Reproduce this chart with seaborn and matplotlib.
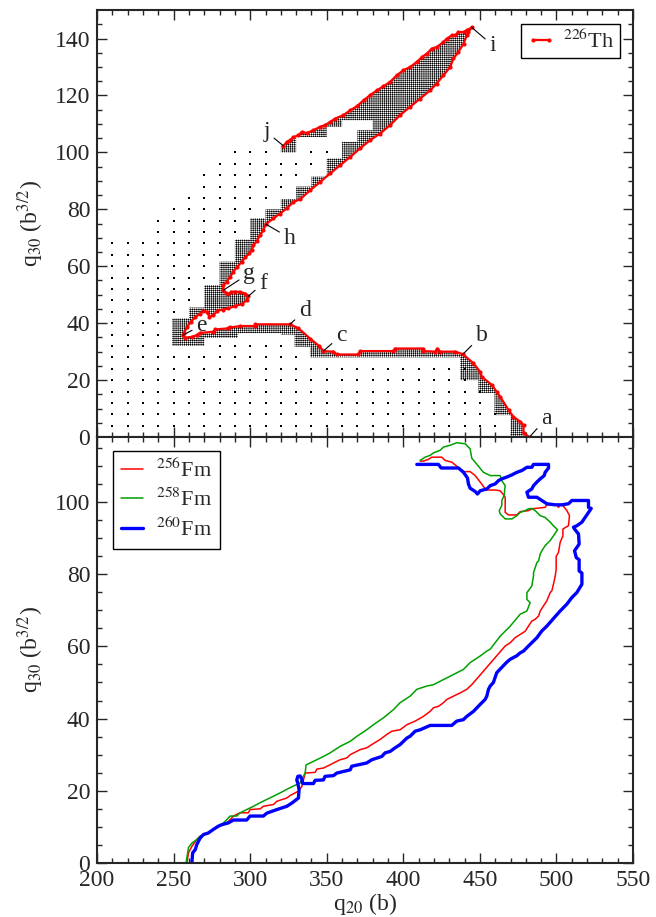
import numpy as np
import pandas as pd
import seaborn as sns
import matplotlib.pyplot as plt

# ---------------- data: upper panel (226Th) ----------------
# fission path a -> e
path_ae_q20 = [482.4, 478.5, 478.5, 476.3, 471.9, 468.7, 463.2, 461.0, 457.8, 451.2, 450.2, 445.8, 438.9,
               434.0, 424.0, 422.3, 420.8, 413.1, 412.7, 394.6, 393.5, 371.8, 370.7, 356.5, 354.3, 347.8,
               345.0, 339.1, 331.5, 326.0, 303.2, 303.2, 293.4, 286.9, 285.8, 277.1, 276.0, 267.3, 265.1,
               261.9, 257.5, 256.0]
path_ae_q30 = [0.0, 1.3, 4.2, 5.4, 7.1, 9.5, 14.2, 15.9, 18.3, 21.2, 22.9, 25.9, 29.1,
               30.0, 30.0, 31.1, 30.0, 30.2, 31.1, 31.1, 30.2, 30.2, 29.0, 29.0, 30.0, 30.2,
               32.0, 34.6, 38.2, 39.6, 39.6, 39.0, 39.0, 38.5, 38.2, 37.8, 37.0, 36.6, 35.8,
               35.2, 34.9, 35.8]
# e -> h
path_eh_q20 = [256.8, 258.6, 261.2, 264.0, 267.3, 269.4, 271.7, 273.4, 276.0, 278.6, 282.1, 285.8, 290.1,
               294.5, 297.8, 298.8, 296.7, 293.4, 290.1, 287.5, 285.8, 284.3, 282.5, 282.5, 284.6, 286.9,
               289.0, 291.6, 294.5, 296.7, 299.5, 301.0, 302.1, 304.3, 306.5, 308.6, 310.2]
path_eh_q30 = [36.6, 38.5, 40.5, 42.0, 43.4, 44.4, 44.0, 42.2, 42.8, 44.4, 44.8, 45.2, 46.0,
               46.7, 48.1, 49.5, 50.4, 51.0, 51.1, 51.0, 50.2, 50.6, 51.6, 53.4, 54.5, 56.3,
               58.1, 59.8, 61.6, 63.1, 64.5, 65.7, 67.4, 68.9, 70.9, 72.7, 74.8]
# h -> i
path_hi_q20 = [315.2, 319.5, 323.9, 328.2, 332.6, 339.1, 345.7, 352.2, 358.7, 365.3, 371.8, 378.3, 384.8,
               391.4, 397.9, 404.4, 411.0, 417.5, 421.8, 426.2, 430.6, 432.7, 436.0, 439.3, 441.4, 442.5,
               444.7]
path_hi_q30 = [76.8, 78.5, 80.3, 82.6, 83.5, 86.7, 89.6, 92.6, 95.5, 98.4, 101.4, 104.3, 106.6,
               109.6, 113.1, 116.0, 118.9, 121.8, 124.2, 127.1, 130.0, 133.0, 135.3, 138.2, 141.1, 142.3,
               143.9]
# i -> j
path_ij_q20 = [441.4, 439.3, 436.0, 433.8, 431.7, 428.4, 426.2, 421.8, 418.6, 415.3, 412.1, 408.8, 404.4,
               400.1, 395.7, 391.4, 387.0, 382.7, 378.3, 374.0, 369.6, 365.3, 360.9, 355.5, 352.2, 348.9,
               345.7, 341.3, 337.0, 333.7, 331.5, 328.2, 326.1, 323.9, 321.7]
path_ij_q30 = [142.9, 142.3, 142.3, 141.1, 141.1, 140.0, 138.8, 137.0, 136.5, 134.7, 133.5, 131.8, 130.0,
               128.9, 127.1, 124.8, 123.2, 121.8, 120.1, 118.3, 116.2, 114.8, 113.1, 111.9, 110.7, 109.6,
               109.0, 107.8, 106.8, 107.2, 106.0, 105.4, 104.3, 103.7, 102.3]

# labelled points along the path
lab_txt = ['a', 'b', 'c', 'd', 'e', 'f', 'g', 'h', 'i', 'j']
lab_q20 = [482.4, 438.9, 347.8, 326.0, 256.0, 298.8, 282.5, 310.2, 444.7, 321.7]
lab_q30 = [0.0, 29.1, 30.2, 39.6, 35.8, 49.5, 51.6, 74.8, 143.9, 102.3]
lab_dx = [17, 19, 18, 15, 19, 15, 26, 24, 21, -17]
lab_dy = [19, 19, 16, 14, 10, 13, 17, -14, -18, 14]

# coarse mesh rows that are still visible (q30 row, first q20, last q20)
dot_q30 = [4, 8, 12, 16, 20, 24, 28, 32, 32, 36, 40, 44, 48, 52, 56, 60, 64, 68, 72, 76, 80, 84, 88, 92, 96,
           100, 100]
dot_from = [210, 210, 210, 210, 210, 210, 210, 210, 280, 210, 210, 210, 210, 210, 210, 210, 210, 210, 240, 240,
            250, 260, 270, 270, 280, 290, 340]
dot_to = [460, 460, 450, 450, 440, 440, 330, 240, 320, 240, 240, 250, 260, 260, 270, 270, 280, 280, 290, 290,
          300, 310, 320, 330, 340, 310, 350]

# outline of the refined (dense) zone
band_q20 = [249, 270, 270, 292, 292, 320, 320, 329, 329, 339, 339, 437, 437, 449, 449, 459.5, 459.5, 470, 470]
band_q30 = [32, 32, 34.8, 34.8, 36.5, 36.5, 36, 36, 31.7, 31.7, 28, 28, 20, 20, 15.5, 15.5, 7.7, 7.7, 0]
left_q20 = [310, 300, 300, 290, 290, 280, 280, 270, 270, 260, 260, 249, 249, 256]
left_q30 = [76.9, 76.9, 69.4, 69.4, 61.6, 61.6, 53.4, 53.4, 45.5, 45.5, 41.7, 41.7, 32, 32]
upper_q20 = [320, 320, 330, 330, 350, 350, 360, 360, 380, 380, 370, 370, 360, 360, 350, 350, 340, 340,
             330, 330, 320, 320, 310, 310]
upper_q30 = [102.4, 100, 100, 105.4, 105.4, 109, 109, 111.3, 111.3, 107.8, 107.8, 103.7, 103.7, 97.9,
             97.9, 91.5, 91.5, 88, 88, 83.6, 83.6, 80, 80, 76]

# ---------------- data: lower panel (Fm) ----------------
fm256_q20 = [258.6, 259.7, 261.9, 265.1, 267.3, 270.6, 275.0, 280.0, 284.7, 286.9, 289.0, 293.4, 298.8, 299.9,
             306.5, 308.6, 315.2, 317.4, 323.9, 326.1, 329.3, 331.5, 333.7, 335.9, 342.4, 343.5, 347.8, 352.2,
             354.4, 358.7, 363.1, 365.3, 371.8, 376.1, 379.4, 384.8, 389.2, 392.5, 397.9, 402.3, 407.7, 413.1,
             417.5, 419.7, 423.0, 426.2, 428.4, 432.7, 437.1, 441.4, 444.7, 466.5, 469.8, 473.0, 476.3, 479.6,
             481.7, 483.9, 486.1, 488.3, 489.4, 491.5, 493.7, 495.9, 497.0, 498.0, 499.2, 499.8, 499.8, 501.3,
             502.4, 504.2, 504.2, 505.7, 507.8, 508.5, 506.8, 504.2, 502.4, 501.3, 500.3, 493.7, 492.6, 483.9,
             481.7, 476.3, 474.1, 468.7, 466.5, 466.5, 465.0, 463.2, 460.0, 454.1, 450.2, 446.9, 443.6, 439.3,
             431.7, 427.3, 425.1, 418.6, 416.4, 413.1, 411.0]
fm256_q30 = [0.0, 2.8, 4.6, 6.5, 7.4, 7.9, 9.0, 10.3, 11.1, 12.0, 13.0, 13.9, 13.9, 14.8,
             15.0, 15.7, 16.2, 17.1, 18.0, 18.7, 19.4, 19.9, 21.2, 24.9, 25.1, 26.0, 26.3, 27.2,
             27.7, 28.6, 29.1, 30.0, 31.4, 31.9, 32.8, 34.2, 35.6, 36.5, 36.9, 38.3, 39.3, 40.6,
             42.0, 43.0, 43.4, 44.4, 45.3, 46.2, 47.1, 48.1, 49.4, 60.1, 61.0, 62.4, 63.3, 64.2,
             65.6, 67.0, 67.5, 68.4, 69.8, 71.2, 72.6, 74.9, 75.4, 77.2, 79.5, 81.4, 84.9, 86.0,
             88.8, 90.6, 92.5, 92.9, 93.4, 96.2, 97.6, 99.0, 99.2, 98.5, 99.2, 99.2, 98.5, 98.1,
             97.6, 97.3, 96.4, 96.4, 97.1, 101.3, 102.2, 103.1, 103.3, 103.3, 105.5, 107.3, 108.4, 108.4,
             111.0, 111.5, 112.4, 112.4, 111.8, 111.3, 111.3]
fm258_q20 = [258.1, 259.7, 261.9, 265.1, 267.3, 270.6, 275.0, 280.0, 282.5, 284.7, 286.9, 291.2, 293.4, 297.7,
             302.1, 306.5, 310.8, 315.2, 319.5, 323.9, 328.2, 332.6, 333.7, 335.9, 336.5, 339.1, 343.5, 347.8,
             352.2, 358.7, 365.3, 369.7, 376.1, 380.5, 387.0, 393.6, 397.9, 404.4, 408.8, 415.3, 419.7, 426.2,
             432.7, 439.2, 443.6, 450.1, 454.5, 456.7, 463.2, 469.8, 476.3, 480.7, 482.8, 480.7, 480.7, 483.9,
             485.0, 485.0, 487.2, 488.3, 489.4, 490.5, 492.6, 495.9, 498.0, 500.7, 498.0, 495.9, 492.6, 489.4,
             486.1, 483.9, 481.7, 479.6, 476.3, 474.1, 470.9, 466.5, 463.2, 462.6, 464.3, 464.3, 465.8, 466.5,
             464.3, 463.2, 456.7, 452.3, 446.9, 444.7, 443.6, 440.4, 434.9, 430.6, 426.2, 424.0, 419.7, 417.5,
             414.2, 411.0]
fm258_q30 = [0.0, 4.3, 5.5, 6.5, 7.4, 7.9, 9.0, 10.3, 11.1, 12.0, 13.0, 13.0, 13.9, 14.8,
             15.7, 16.7, 17.6, 18.5, 19.4, 20.4, 21.3, 22.2, 23.1, 25.0, 27.2, 27.7, 28.6, 29.5,
             30.5, 32.3, 33.7, 35.1, 36.9, 38.3, 40.2, 42.5, 44.4, 46.2, 48.1, 49.0, 49.4, 50.8,
             52.2, 53.6, 55.5, 57.3, 58.7, 59.2, 62.8, 65.6, 68.9, 69.8, 72.1, 73.0, 74.9, 76.7,
             79.5, 80.4, 83.2, 83.7, 85.6, 86.5, 87.9, 89.3, 90.6, 92.3, 93.4, 94.4, 95.7, 96.2,
             97.6, 98.2, 98.1, 97.6, 97.1, 96.2, 95.3, 95.3, 96.7, 97.6, 99.0, 100.4, 101.8, 104.5,
             105.9, 107.3, 107.3, 108.2, 111.0, 112.1, 114.7, 116.1, 116.4, 115.7, 115.2, 114.3, 113.6, 112.9,
             112.4, 111.5]
fm260_q20 = [261.9, 262.4, 264.1, 265.1, 266.2, 267.3, 269.5, 272.6, 275.9, 279.2, 281.4, 285.7, 289.0, 297.7,
             299.9, 308.6, 310.8, 317.4, 323.9, 327.2, 329.3, 331.5, 331.9, 331.1, 330.4, 331.1, 332.6, 333.7,
             334.1, 334.8, 341.3, 342.4, 347.8, 348.9, 354.4, 356.5, 365.3, 366.3, 376.1, 379.4, 385.9, 388.1,
             391.4, 394.6, 397.9, 402.3, 404.4, 407.7, 411.0, 417.5, 431.6, 434.9, 439.2, 441.4, 445.8, 450.1,
             453.4, 454.5, 455.6, 456.7, 458.8, 461.0, 463.2, 467.5, 469.7, 474.1, 476.3, 478.5, 481.7, 487.2,
             490.5, 493.7, 498.0, 502.4, 506.8, 510.0, 513.3, 516.6, 516.6, 514.8, 514.8, 512.9, 511.8, 513.3,
             514.8, 514.4, 511.8, 511.1, 513.3, 516.6, 518.7, 520.9, 522.7, 520.9, 520.9, 510.0, 507.9, 503.5,
             499.2, 493.7, 490.5, 487.2, 481.7, 480.7, 483.9, 485.0, 487.2, 489.4, 492.0, 492.6, 494.8, 494.8,
             485.0, 483.9, 480.7, 477.4, 474.1, 470.9, 467.6, 464.3, 462.1, 460.0, 456.7, 454.5, 450.2, 448.4,
             446.9, 443.6, 442.5, 441.9, 439.3, 436.0, 424.7, 422.9, 408.8]
fm260_q30 = [0.0, 2.8, 3.7, 5.1, 6.0, 6.9, 7.9, 8.3, 9.3, 10.2, 10.6, 11.1, 11.9, 11.9,
             13.0, 13.0, 13.8, 14.8, 15.7, 16.6, 17.3, 18.0, 20.3, 22.1, 23.0, 24.0, 24.1, 23.2,
             22.1, 22.0, 22.0, 22.9, 23.0, 24.0, 24.2, 24.9, 25.8, 26.8, 27.7, 28.6, 29.5, 30.5,
             30.9, 31.9, 32.8, 34.6, 35.1, 36.5, 36.9, 38.1, 38.1, 39.3, 39.7, 40.6, 42.0, 43.9,
             45.3, 46.2, 48.1, 49.0, 50.0, 52.7, 53.7, 55.6, 56.4, 57.4, 58.2, 58.7, 60.1, 62.4,
             64.3, 65.6, 67.7, 69.8, 71.7, 73.5, 74.9, 77.2, 80.3, 80.9, 84.0, 84.6, 86.5, 87.4,
             88.3, 91.1, 92.5, 93.0, 93.4, 94.4, 95.7, 97.1, 98.2, 98.5, 100.4, 100.4, 99.5, 99.2,
             99.2, 99.5, 100.4, 101.3, 101.3, 102.7, 103.6, 104.5, 105.5, 106.4, 107.3, 108.2, 109.4, 110.4,
             110.4, 109.6, 109.6, 108.7, 108.2, 107.5, 106.9, 106.4, 105.9, 105.0, 104.5, 103.6, 103.1, 102.2,
             102.9, 103.8, 105.0, 106.6, 108.2, 109.4, 109.4, 110.4, 110.4]
fm_names = [r'$^{256}$Fm', r'$^{258}$Fm', r'$^{260}$Fm']
fm_colors = ['#ff0000', '#00a000', '#0000ff']
fm_widths = [1.1, 1.1, 2.4]

# ---------------- style ----------------
sns.set_theme(style='ticks')
plt.rcParams['font.family'] = 'serif'
plt.rcParams['font.serif'] = ['Liberation Serif', 'DejaVu Serif']
plt.rcParams['mathtext.fontset'] = 'stix'
plt.rcParams['hatch.color'] = 'black'
plt.rcParams['hatch.linewidth'] = 0.4
plt.rcParams['axes.linewidth'] = 1.5

fig = plt.figure(figsize=(6.56, 9.17), dpi=100)
ax1 = fig.add_axes([0.148, 0.5234, 0.817, 0.4656])
ax2 = fig.add_axes([0.148, 0.0589, 0.817, 0.4646])

# --- top panel ---
path_q20 = path_ae_q20 + path_eh_q20 + path_hi_q20 + path_ij_q20
path_q30 = path_ae_q30 + path_eh_q30 + path_hi_q30 + path_ij_q30

dense = [
    (band_q20 + path_ae_q20, band_q30 + path_ae_q30),
    ([path_ae_q20[-1]] + path_eh_q20 + left_q20, [path_ae_q30[-1]] + path_eh_q30 + left_q30),
    ([path_eh_q20[-1]] + path_hi_q20 + path_ij_q20 + upper_q20,
     [path_eh_q30[-1]] + path_hi_q30 + path_ij_q30 + upper_q30),
]
for xs, ys in dense:
    ax1.fill(xs, ys, facecolor='white', edgecolor='black', hatch='+' * 8, linewidth=0, zorder=1)

dots = pd.concat([pd.DataFrame({'q20': np.arange(lo, hi + 1, 10), 'q30': r})
                  for r, lo, hi in zip(dot_q30, dot_from, dot_to)])
sns.scatterplot(data=dots, x='q20', y='q30', ax=ax1, color='black', marker='s', s=3, linewidth=0, zorder=2)

th = pd.DataFrame({'q20': path_q20, 'q30': path_q30})
sns.lineplot(data=th, x='q20', y='q30', ax=ax1, sort=False, estimator=None, color='red', lw=1.6,
             marker='o', ms=3, mec='red', mew=0, label=r'$^{226}$Th', zorder=3)

for t, x, y, dx, dy in zip(lab_txt, lab_q20, lab_q30, lab_dx, lab_dy):
    ax1.annotate(t, xy=(x, y), xytext=(dx, dy), textcoords='offset pixels', ha='center', va='center',
                 fontsize=17, arrowprops=dict(arrowstyle='-', color='black', lw=0.8, shrinkA=1, shrinkB=0),
                 zorder=4)

ax1.set_xlim(200, 550)
ax1.set_ylim(0, 150)
ax1.set_yticks(np.arange(0, 141, 20))
ax1.set_yticks(np.arange(0, 150, 5), minor=True)
ax1.set_xlabel('')
ax1.set_ylabel(r'q$_{30}$ (b$^{3/2}$)', fontsize=17, labelpad=6)
ax1.legend(loc='upper right', bbox_to_anchor=(0.976, 0.967), borderaxespad=0, fontsize=16, frameon=True,
           fancybox=False, edgecolor='black', framealpha=1, numpoints=2, handlelength=1.3,
           handletextpad=0.35, borderpad=0.25).get_frame().set_linewidth(1.0)

# --- bottom panel ---
for q20, q30, name, c, w in zip([fm256_q20, fm258_q20, fm260_q20], [fm256_q30, fm258_q30, fm260_q30],
                                fm_names, fm_colors, fm_widths):
    d = pd.DataFrame({'q20': q20, 'q30': q30})
    sns.lineplot(data=d, x='q20', y='q30', ax=ax2, sort=False, estimator=None, color=c, lw=w, label=name)

ax2.set_xlim(200, 550)
ax2.set_ylim(0, 118)
ax2.set_yticks(np.arange(0, 101, 20))
ax2.set_yticks(np.arange(0, 118, 5), minor=True)
ax2.set_xlabel(r'q$_{20}$ (b)', fontsize=17, labelpad=0)
ax2.set_ylabel(r'q$_{30}$ (b$^{3/2}$)', fontsize=17, labelpad=6)
ax2.legend(loc='upper left', bbox_to_anchor=(0.03, 0.967), borderaxespad=0, fontsize=16, frameon=True,
           fancybox=False, edgecolor='black', framealpha=1, handlelength=1.0, handletextpad=0.6,
           labelspacing=0.3, borderpad=0.35).get_frame().set_linewidth(1.0)

for ax in (ax1, ax2):
    ax.set_xticks(np.arange(200, 551, 50))
    ax.set_xticks(np.arange(200, 551, 10), minor=True)
    ax.tick_params(which='both', direction='in', top=True, right=True, width=1.0, labelsize=17, pad=5)
    ax.tick_params(which='major', length=7)
    ax.tick_params(which='minor', length=3.5)
ax1.tick_params(labelbottom=False)

fig.savefig('out.png', dpi=100)
